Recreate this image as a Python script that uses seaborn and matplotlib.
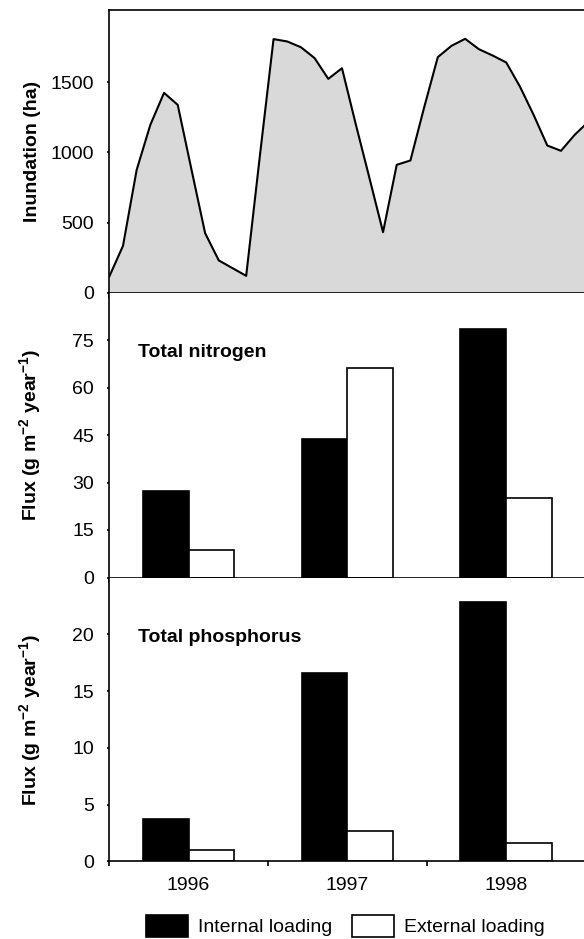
import matplotlib
matplotlib.use("Agg")
import matplotlib.pyplot as plt
from matplotlib.patches import Patch
import numpy as np
import pandas as pd
import seaborn as sns

# ---- data ----
months = list(range(36))
inundation = [114, 333, 876, 1198, 1426, 1340, 880, 424, 229, 174, 119, 975,
              1810, 1793, 1752, 1674, 1526, 1602, 1205, 820, 431, 912, 943, 1321,
              1681, 1762, 1812, 1738, 1693, 1643, 1471, 1269, 1050, 1012, 1126, 1220]

years = ["1996", "1997", "1998"]
loading_types = ["Internal loading", "External loading"]
nitrogen_internal = [27.4, 43.8, 78.5]
nitrogen_external = [8.6, 66.2, 25.2]
phosphorus_internal = [3.7, 16.6, 22.8]
phosphorus_external = [1.0, 2.7, 1.6]

# ---- style ----
sns.set_theme(style="ticks")
plt.rcParams["font.family"] = ["Liberation Sans", "DejaVu Sans"]
plt.rcParams["mathtext.fontset"] = "custom"
plt.rcParams["mathtext.rm"] = "Liberation Sans"
plt.rcParams["mathtext.bf"] = "Liberation Sans:bold"
plt.rcParams["axes.linewidth"] = 1.2
for key in ["text.color", "axes.labelcolor", "xtick.color", "ytick.color",
            "axes.edgecolor"]:
    plt.rcParams[key] = "black"

W, H = 584, 939
fig = plt.figure(figsize=(W / 100, H / 100), dpi=100)

left = 109.3 / W
width = (590 - 109.3) / W
def frac_rect(top_px, bottom_px):
    return [left, 1 - bottom_px / H, width, (bottom_px - top_px) / H]

ax1 = fig.add_axes(frac_rect(9.7, 292.5))
ax2 = fig.add_axes(frac_rect(292.5, 577.5))
ax3 = fig.add_axes(frac_rect(577.5, 861.3))

FS = 14

# ---- top: inundation ----
ax1.fill_between(months, inundation, 0, color="#d9d9d9", linewidth=0)
sns.lineplot(x=months, y=inundation, color="black", linewidth=1.5, ax=ax1)
ax1.set_xlim(0, 35.12)
ax1.set_ylim(0, 2020)
ax1.set_xticks([0, 12, 24])
ax1.set_xticklabels([])
ax1.set_yticks([0, 500, 1000, 1500])
ax1.spines["right"].set_visible(False)
ax1.set_ylabel("Inundation (ha)", fontsize=FS, fontweight="bold")
ax1.yaxis.set_label_coords(-0.142, 0.5)

# ---- bars ----
def bar_panel(ax, internal, external, ylim, yticks, title):
    df = pd.DataFrame({
        "year": years * 2,
        "type": [loading_types[0]] * 3 + [loading_types[1]] * 3,
        "value": internal + external,
    })
    sns.barplot(data=df, x="year", y="value", hue="type", order=years,
                hue_order=loading_types,
                palette={loading_types[0]: "black", loading_types[1]: "white"},
                edgecolor="black", linewidth=1.2, width=0.575, saturation=1,
                legend=False, ax=ax)
    ax.set_xlim(-0.5, 2.53)
    ax.set_ylim(*ylim)
    ax.set_yticks(yticks)
    ax.set_xticks([-0.5, 0.5, 1.5])
    ax.set_xticklabels([])
    ax.set_xlabel("")
    ax.spines["top"].set_visible(False)
    ax.spines["right"].set_visible(False)
    ax.set_ylabel(r"Flux (g m$^{\mathbf{-2}}$ year$^{\mathbf{-1}}$)",
                  fontsize=FS, fontweight="bold")
    ax.yaxis.set_label_coords(-0.136, 0.5)
    ax.text(0.0607, 0.79, title, transform=ax.transAxes, fontsize=FS,
            fontweight="bold", va="center", ha="left")

bar_panel(ax2, nitrogen_internal, nitrogen_external, (0, 90),
          [0, 15, 30, 45, 60, 75], "Total nitrogen")
bar_panel(ax3, phosphorus_internal, phosphorus_external, (0, 25),
          [0, 5, 10, 15, 20], "Total phosphorus")

ax3.set_xticks([0, 1, 2], minor=True)
ax3.set_xticklabels(years, minor=True)
ax3.tick_params(axis="x", which="minor", length=0, pad=11, labelsize=FS)

for ax in (ax1, ax2, ax3):
    ax.tick_params(axis="y", length=1.5, width=1.2, pad=9.5, labelsize=FS,
                   direction="out")
    ax.tick_params(axis="x", which="major", length=3.4, width=1.2,
                   direction="out")
    ax.grid(False)
    ax.set_facecolor("white")

# ---- legend ----
handles = [Patch(facecolor="black", edgecolor="black", linewidth=1.2),
           Patch(facecolor="white", edgecolor="black", linewidth=1.2)]
fig.legend(handles, loading_types, loc="center left",
           bbox_to_anchor=(145.7 / W, 1 - 926 / H), ncol=2, frameon=False,
           fontsize=FS, handlelength=2.19, handleheight=1.34,
           handletextpad=0.51, columnspacing=1.0, borderpad=0,
           borderaxespad=0)

fig.savefig("out.png", dpi=100)
